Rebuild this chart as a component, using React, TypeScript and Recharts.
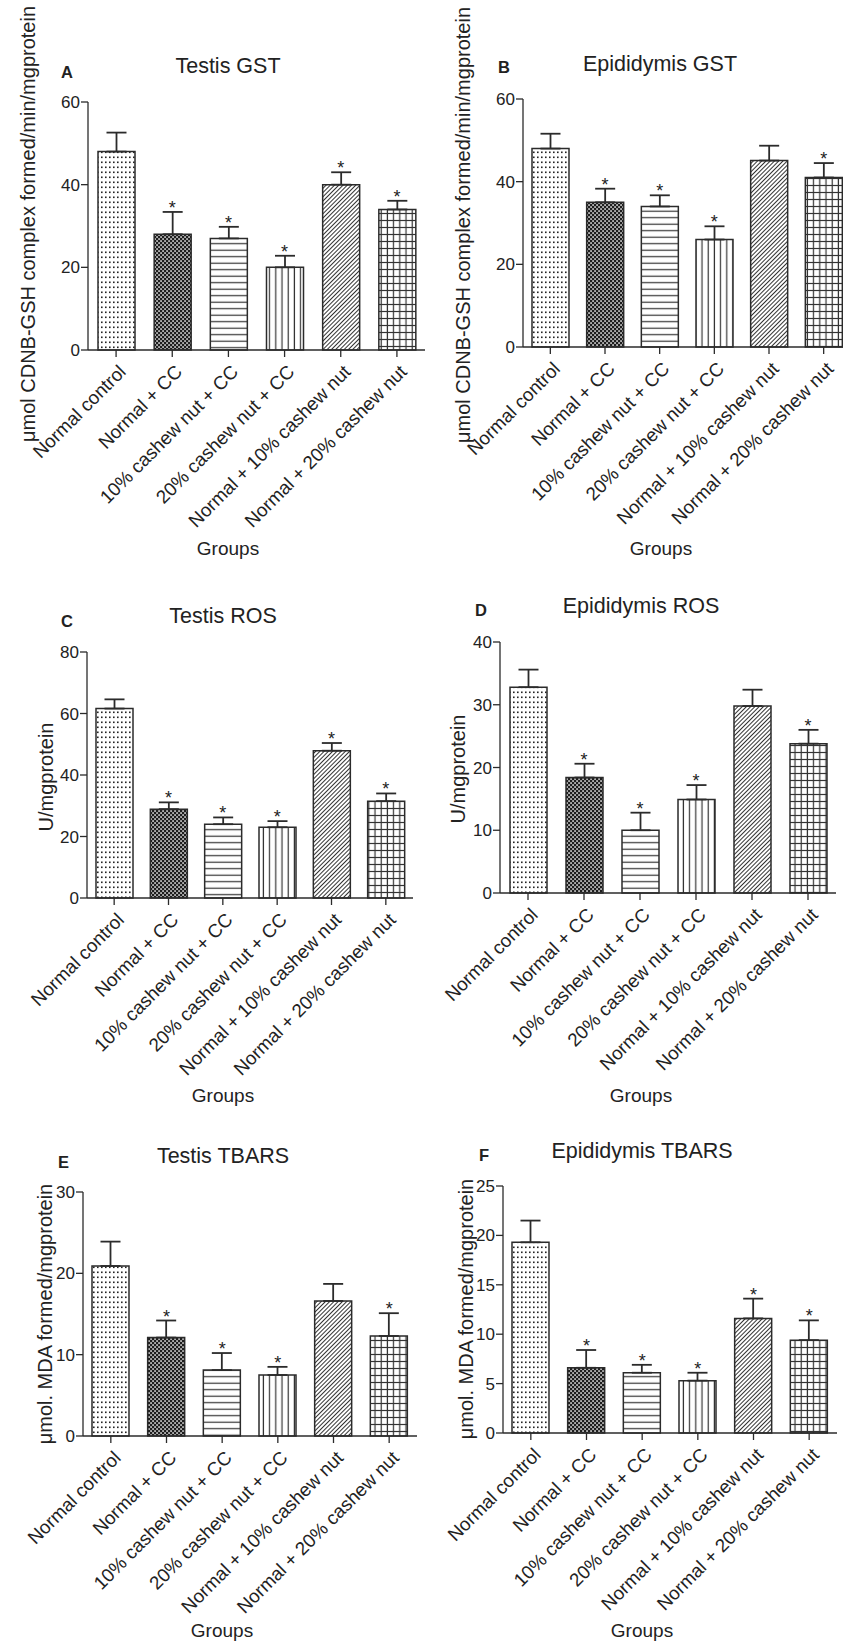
import React from 'react'
import { BarChart, Bar, XAxis, YAxis, ErrorBar, ReferenceDot, Cell } from 'recharts'

// groups shared by all six panels
const groups = [
  'Normal control',
  'Normal + CC',
  '10% cashew nut + CC',
  '20% cashew nut + CC',
  'Normal + 10% cashew nut',
  'Normal + 20% cashew nut',
]
const fills = ['url(#p-dots)', 'url(#p-dense)', 'url(#p-hlines)', 'url(#p-vlines)', 'url(#p-diag)', 'url(#p-grid)']

// A - Testis GST
const testisGst = [48, 28, 27, 20, 40, 34]
const testisGstErr = [4.6, 5.4, 2.8, 2.8, 3.0, 2.1]
const testisGstStar = [false, true, true, true, true, true]
const gstTicks = [0, 20, 40, 60]

// B - Epididymis GST
const epiGst = [48, 35, 34, 26, 45.1, 41]
const epiGstErr = [3.6, 3.3, 2.7, 3.2, 3.6, 3.5]
const epiGstStar = [false, true, true, true, false, true]

// C - Testis ROS
const testisRos = [61.6, 28.9, 24.0, 23.0, 47.9, 31.5]
const testisRosErr = [3.0, 2.2, 2.2, 2.0, 2.5, 2.5]
const testisRosStar = [false, true, true, true, true, true]
const testisRosTicks = [0, 20, 40, 60, 80]

// D - Epididymis ROS
const epiRos = [32.8, 18.4, 10.0, 14.9, 29.8, 23.8]
const epiRosErr = [2.8, 2.2, 2.8, 2.3, 2.6, 2.2]
const epiRosStar = [false, true, true, true, false, true]
const epiRosTicks = [0, 10, 20, 30, 40]

// E - Testis TBARS
const testisTbars = [20.9, 12.1, 8.1, 7.5, 16.6, 12.3]
const testisTbarsErr = [3.0, 2.1, 2.1, 1.0, 2.1, 2.8]
const testisTbarsStar = [false, true, true, true, false, true]
const testisTbarsTicks = [0, 10, 20, 30]

// F - Epididymis TBARS
const epiTbars = [19.3, 6.6, 6.1, 5.3, 11.6, 9.4]
const epiTbarsErr = [2.2, 1.8, 0.8, 0.8, 2.0, 2.0]
const epiTbarsStar = [false, true, true, true, true, true]
const epiTbarsTicks = [0, 5, 10, 15, 20, 25]

const INK = '#2b2b2b'
const FONT = '"Liberation Sans", Arial, Helvetica, sans-serif'

function GroupTick({ x, y, payload }: any) {
  const ax = x + 11
  const ay = y + 14
  return (
    <text x={ax} y={ay} transform={`rotate(-45, ${ax}, ${ay})`} textAnchor="end" fontSize={18.8} fill="#222">
      {payload.value}
    </text>
  )
}

function Star({ cx, cy }: any) {
  return (
    <text x={cx} y={cy + 2} textAnchor="middle" fontSize={18} fill="#222">
      *
    </text>
  )
}

interface PanelProps {
  left: number
  top: number
  width: number
  height: number
  margin: { top: number; right: number; bottom: number; left: number }
  yWidth: number
  values: number[]
  errs: number[]
  stars: boolean[]
  ticks: number[]
}

function Panel({ left, top, width, height, margin, yWidth, values, errs, stars, ticks }: PanelProps) {
  const data = groups.map((name, i) => ({ name, value: values[i], err: [0, errs[i]] }))
  return (
    <div style={{ position: 'absolute', left, top, width, height }}>
      <BarChart width={width} height={height} data={data} margin={margin}>
        <XAxis
          dataKey="name"
          interval={0}
          height={200}
          tick={<GroupTick />}
          tickSize={7}
          tickLine={{ stroke: INK, strokeWidth: 1.3 }}
          axisLine={{ stroke: INK, strokeWidth: 1.3 }}
        />
        <YAxis
          width={yWidth}
          domain={[0, ticks[ticks.length - 1]]}
          ticks={ticks}
          interval={0}
          tickSize={7}
          tickMargin={1}
          tick={{ fontSize: 17, fill: '#222' }}
          tickLine={{ stroke: INK, strokeWidth: 1.3 }}
          axisLine={{ stroke: INK, strokeWidth: 1.3 }}
        />
        <Bar dataKey="value" barSize={37} stroke={INK} strokeWidth={1.5} isAnimationActive={false}>
          {data.map((d, i) => (
            <Cell key={d.name} fill={fills[i]} />
          ))}
          <ErrorBar dataKey="err" width={10} stroke={INK} strokeWidth={1.8} />
        </Bar>
        {data.map((d, i) =>
          stars[i] ? (
            <ReferenceDot key={d.name} x={d.name} y={values[i] + errs[i]} r={0} shape={<Star />} />
          ) : null
        )}
      </BarChart>
    </div>
  )
}

function Patterns() {
  return (
    <svg width={0} height={0} style={{ position: 'absolute' }}>
      <defs>
        <pattern id="p-dots" patternUnits="userSpaceOnUse" width={4} height={5}>
          <rect width={4} height={5} fill="#fff" />
          <rect x={1} y={1.5} width={1.6} height={1.6} fill="#222" />
        </pattern>
        <pattern id="p-dense" patternUnits="userSpaceOnUse" width={4} height={4}>
          <rect width={4} height={4} fill="#1e1e1e" />
          <rect x={0.3} y={0.3} width={1.5} height={1.5} fill="#fff" />
          <rect x={2.3} y={2.3} width={1.5} height={1.5} fill="#fff" />
        </pattern>
        <pattern id="p-hlines" patternUnits="userSpaceOnUse" width={10} height={6.5}>
          <rect width={10} height={6.5} fill="#fff" />
          <line x1={0} y1={3.2} x2={10} y2={3.2} stroke="#333" strokeWidth={1.2} />
        </pattern>
        <pattern id="p-vlines" patternUnits="userSpaceOnUse" width={6.2} height={10}>
          <rect width={6.2} height={10} fill="#fff" />
          <line x1={3} y1={0} x2={3} y2={10} stroke="#333" strokeWidth={1.2} />
        </pattern>
        <pattern id="p-diag" patternUnits="userSpaceOnUse" width={3} height={3} patternTransform="rotate(45)">
          <rect width={3} height={3} fill="#fff" />
          <line x1={1.5} y1={0} x2={1.5} y2={3} stroke="#333" strokeWidth={1} />
        </pattern>
        <pattern id="p-grid" patternUnits="userSpaceOnUse" width={6.2} height={7}>
          <rect width={6.2} height={7} fill="#fff" />
          <line x1={3} y1={0} x2={3} y2={7} stroke="#333" strokeWidth={1.2} />
          <line x1={0} y1={3.5} x2={6.2} y2={3.5} stroke="#333" strokeWidth={1.2} />
        </pattern>
      </defs>
    </svg>
  )
}

const titles = [
  { text: 'Testis GST', x: 228, y: 73, letter: 'A', lx: 61, ly: 78 },
  { text: 'Epididymis GST', x: 660, y: 71, letter: 'B', lx: 498, ly: 73 },
  { text: 'Testis ROS', x: 223, y: 623, letter: 'C', lx: 61, ly: 627 },
  { text: 'Epididymis ROS', x: 641, y: 613, letter: 'D', lx: 475, ly: 616 },
  { text: 'Testis TBARS', x: 223, y: 1163, letter: 'E', lx: 58, ly: 1168 },
  { text: 'Epididymis TBARS', x: 642, y: 1158, letter: 'F', lx: 479, ly: 1161 },
]

const yLabels = [
  { text: 'μmol CDNB-GSH complex formed/min/mgprotein', x: 35, y: 224 },
  { text: 'μmol CDNB-GSH complex formed/min/mgprotein', x: 470, y: 225 },
  { text: 'U/mgprotein', x: 53, y: 777 },
  { text: 'U/mgprotein', x: 465, y: 769 },
  { text: 'μmol. MDA formed/mgprotein', x: 52, y: 1314 },
  { text: 'μmol. MDA formed/mgprotein', x: 473, y: 1309 },
]

const groupsLabels = [
  { x: 228, y: 555 },
  { x: 661, y: 555 },
  { x: 223, y: 1102 },
  { x: 641, y: 1102 },
  { x: 222, y: 1637 },
  { x: 642, y: 1637 },
]

export default function App() {
  return (
    <div
      style={{
        position: 'absolute',
        left: 0,
        top: 0,
        width: 843,
        height: 1643,
        overflow: 'hidden',
        background: '#fff',
        fontFamily: FONT,
      }}
    >
      <Patterns />
      <Panel left={0} top={0} width={430} height={560} margin={{ top: 102, right: 5, bottom: 10, left: 0 }} yWidth={88}
        values={testisGst} errs={testisGstErr} stars={testisGstStar} ticks={gstTicks} />
      <Panel left={420} top={0} width={440} height={560} margin={{ top: 99, right: 9, bottom: 13, left: 0 }} yWidth={103}
        values={epiGst} errs={epiGstErr} stars={epiGstStar} ticks={gstTicks} />
      <Panel left={0} top={560} width={430} height={560} margin={{ top: 92, right: 17, bottom: 22, left: 0 }} yWidth={87}
        values={testisRos} errs={testisRosErr} stars={testisRosStar} ticks={testisRosTicks} />
      <Panel left={420} top={560} width={423} height={560} margin={{ top: 82, right: 7, bottom: 27, left: 0 }} yWidth={80}
        values={epiRos} errs={epiRosErr} stars={epiRosStar} ticks={epiRosTicks} />
      <Panel left={0} top={1120} width={430} height={523} margin={{ top: 72, right: 13, bottom: 7, left: 0 }} yWidth={83}
        values={testisTbars} errs={testisTbarsErr} stars={testisTbarsStar} ticks={testisTbarsTicks} />
      <Panel left={420} top={1120} width={423} height={523} margin={{ top: 66, right: 6, bottom: 10, left: 0 }} yWidth={83}
        values={epiTbars} errs={epiTbarsErr} stars={epiTbarsStar} ticks={epiTbarsTicks} />
      <svg width={843} height={1643} style={{ position: 'absolute', left: 0, top: 0, pointerEvents: 'none' }}>
        {titles.map((t) => (
          <g key={t.letter}>
            <text x={t.x} y={t.y} textAnchor="middle" fontSize={21.5} fill="#222">
              {t.text}
            </text>
            <text x={t.lx} y={t.ly} fontSize={16.5} fontWeight="bold" fill="#222">
              {t.letter}
            </text>
          </g>
        ))}
        {yLabels.map((l, i) => (
          <text key={i} x={l.x} y={l.y} transform={`rotate(-90, ${l.x}, ${l.y})`} textAnchor="middle" fontSize={20} fill="#222">
            {l.text}
          </text>
        ))}
        {groupsLabels.map((g, i) => (
          <text key={i} x={g.x} y={g.y} textAnchor="middle" fontSize={19} fill="#222">
            Groups
          </text>
        ))}
      </svg>
    </div>
  )
}
